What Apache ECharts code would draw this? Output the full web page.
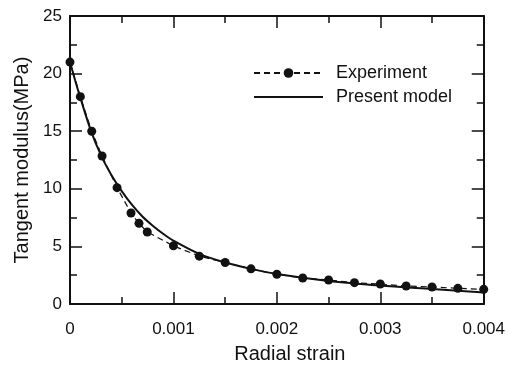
<!DOCTYPE html>
<html>
<head>
<meta charset="utf-8">
<script src="https://cdn.jsdelivr.net/npm/echarts@6/dist/echarts.min.js"></script>
<style>
  html, body { margin: 0; padding: 0; background: #fff; }
  #chart { width: 508px; height: 369px; }
</style>
</head>
<body>
<div id="chart"></div>
<script>
// experiment points (radial strain, tangent modulus MPa)
var expStrain = [0, 0.0001, 0.00021, 0.00031, 0.000455, 0.00059, 0.000667, 0.000747, 0.001, 0.00125, 0.0015, 0.00175, 0.002, 0.00225, 0.0025, 0.00275, 0.003, 0.00325, 0.0035, 0.00375, 0.004];
var expModulus = [21.0, 18.0, 15.0, 12.85, 10.1, 7.9, 7.0, 6.25, 5.05, 4.15, 3.6, 3.05, 2.58, 2.26, 2.08, 1.85, 1.74, 1.56, 1.48, 1.36, 1.27];

// present model curve
var modelStrain = [0, 0.00005, 0.0001, 0.0002, 0.0003, 0.0004, 0.0005, 0.0006, 0.0007, 0.0008, 0.0009, 0.001, 0.00125, 0.0015, 0.00175, 0.002, 0.0025, 0.003, 0.0035, 0.004];
var modelModulus = [21.0, 19.4, 17.9, 15.1, 12.9, 11.2, 9.8, 8.6, 7.6, 6.8, 6.1, 5.5, 4.35, 3.6, 3.05, 2.6, 2.0, 1.6, 1.3, 1.0];

var xTicks = [0, 0.001, 0.002, 0.003, 0.004];
var yTicks = [0, 5, 10, 15, 20, 25];

function pairs(xs, ys) {
  return xs.map(function (x, i) { return [x, ys[i]]; });
}

var font = '"Liberation Sans", Arial, sans-serif';
var ink = '#111';

var chart = echarts.init(document.getElementById('chart'));

var axisBase = {
  type: 'value',
  axisLine: { show: true, onZero: false, lineStyle: { color: ink, width: 2 } },
  axisTick: { show: true, inside: true, length: 12, lineStyle: { color: ink, width: 1.5 } },
  minorTick: { show: true, splitNumber: 2, length: 7, lineStyle: { color: ink, width: 1.5 } },
  splitLine: { show: false },
  minorSplitLine: { show: false }
};

chart.setOption({
  animation: false,
  backgroundColor: '#fff',
  grid: { left: 70, right: 22, top: 16, bottom: 65 },
  legend: {
    orient: 'vertical',
    left: 253,
    top: 64,
    padding: 0,
    itemWidth: 69,
    itemHeight: 12,
    itemGap: 6,
    textStyle: { fontFamily: font, fontSize: 18, color: ink, padding: [0, 0, 0, 8] },
    data: [
      { name: 'Experiment' },
      { name: 'Present model', itemStyle: { opacity: 0 } }
    ]
  },
  xAxis: [
    Object.assign({}, axisBase, {
      position: 'bottom',
      min: 0, max: 0.004, interval: 0.001,
      name: 'Radial strain',
      nameLocation: 'middle',
      nameGap: 40,
      nameTextStyle: { fontFamily: font, fontSize: 20, color: ink, padding: [0, 0, 0, 26] },
      axisLabel: {
        fontFamily: font, fontSize: 17, color: ink, margin: 17,
        formatter: function (v) { return v === 0 ? '0' : v.toFixed(3); }
      }
    }),
    Object.assign({}, axisBase, {
      position: 'top',
      min: 0, max: 0.004, interval: 0.001,
      axisLabel: { show: false }
    })
  ],
  yAxis: [
    Object.assign({}, axisBase, {
      position: 'left',
      min: 0, max: 25, interval: 5,
      name: 'Tangent modulus(MPa)',
      nameLocation: 'middle',
      nameGap: 37,
      nameTextStyle: { fontFamily: font, fontSize: 20, color: ink },
      axisLabel: { fontFamily: font, fontSize: 17, color: ink, margin: 8 }
    }),
    Object.assign({}, axisBase, {
      position: 'right',
      min: 0, max: 25, interval: 5,
      axisLabel: { show: false }
    })
  ],
  series: [
    {
      name: 'Experiment',
      type: 'line',
      xAxisIndex: 0, yAxisIndex: 0,
      data: pairs(expStrain, expModulus),
      symbol: 'circle',
      symbolSize: 9,
      itemStyle: { color: ink },
      lineStyle: { color: ink, width: 1.2, type: [6, 4] },
      z: 3
    },
    {
      name: 'Present model',
      type: 'line',
      xAxisIndex: 0, yAxisIndex: 0,
      data: pairs(modelStrain, modelModulus),
      smooth: 0.3,
      showSymbol: false,
      symbol: 'none',
      itemStyle: { color: ink },
      lineStyle: { color: ink, width: 2 },
      z: 2
    }
  ]
});
</script>
</body>
</html>
